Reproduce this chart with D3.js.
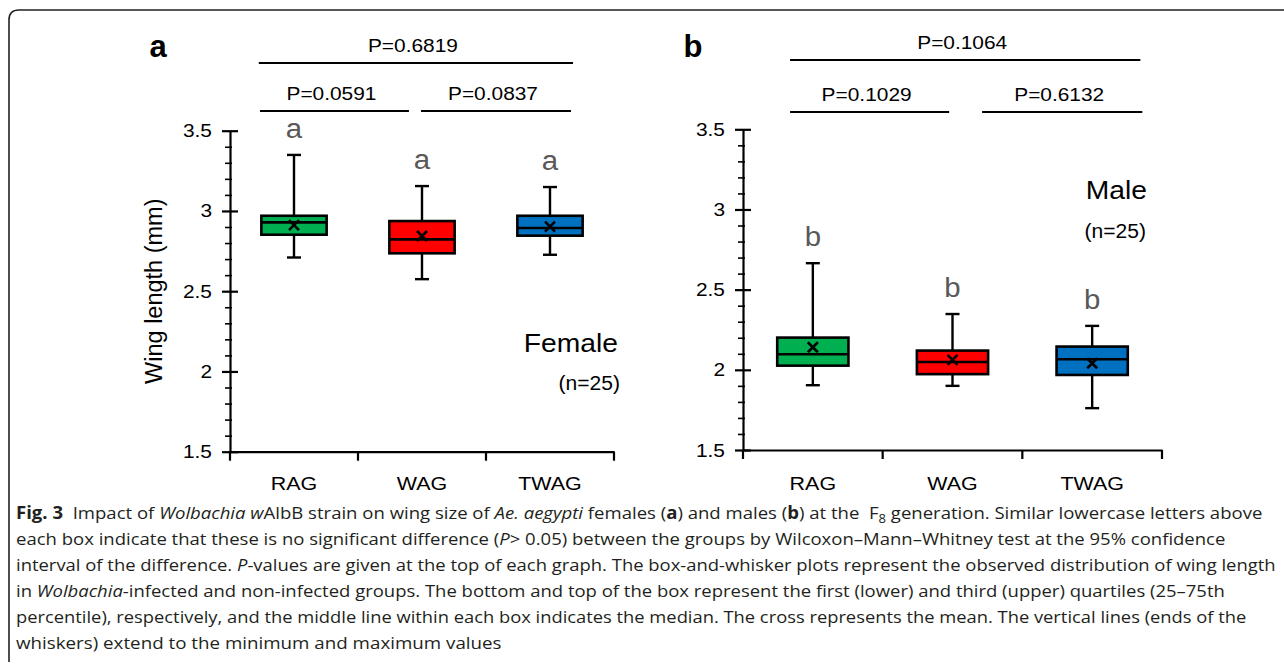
<!DOCTYPE html>
<html><head><meta charset="utf-8">
<script src="https://cdn.jsdelivr.net/npm/d3@7"></script>
<style>
html,body{margin:0;padding:0;background:#fff;}
svg{display:block;}
</style></head>
<body>
<svg id="chart" width="1284" height="668"></svg>
<script>
// ---------------- DATA ----------------
const categories = ["RAG", "WAG", "TWAG"];
const boxColors = ["#00b050", "#ff0000", "#0070c0"];

const femaleMin    = [2.710, 2.575, 2.727];
const femaleQ1     = [2.852, 2.736, 2.846];
const femaleMedian = [2.929, 2.823, 2.894];
const femaleQ3     = [2.970, 2.937, 2.970];
const femaleMax    = [3.349, 3.155, 3.149];
const femaleMean   = [2.912, 2.844, 2.902];
const femaleLetters = ["a", "a", "a"];

const maleMin    = [1.904, 1.900, 1.761];
const maleQ1     = [2.026, 1.973, 1.968];
const maleMedian = [2.097, 2.049, 2.066];
const maleQ3     = [2.201, 2.120, 2.145];
const maleMax    = [2.665, 2.348, 2.274];
const maleMean   = [2.141, 2.062, 2.041];
const maleLetters = ["b", "b", "b"];

const yDomain = [1.5, 3.5];
const yMajorTicks = [1.5, 2, 2.5, 3, 3.5];
const yTickLabels = ["1.5", "2", "2.5", "3", "3.5"];

// comparisons: [from category, to category], P value
const femaleComparisons = [
  {pair: ["RAG", "WAG"],  p: "P=0.0591", level: 0},
  {pair: ["WAG", "TWAG"], p: "P=0.0837", level: 0},
  {pair: ["RAG", "TWAG"], p: "P=0.6819", level: 1}
];
const maleComparisons = [
  {pair: ["RAG", "WAG"],  p: "P=0.1029", level: 0},
  {pair: ["WAG", "TWAG"], p: "P=0.6132", level: 0},
  {pair: ["RAG", "TWAG"], p: "P=0.1064", level: 1}
];

// ---------------- LAYOUT ----------------
const svg = d3.select("#chart");
const FONT = "'Liberation Sans', Arial, sans-serif";
const SX = 1.13; // horizontal stretch of the chart lettering

function label(g, x, y, txt, o = {}) {
  return g.append("text")
    .attr("transform", `translate(${x},${y}) scale(${o.sx || SX},1)`)
    .attr("text-anchor", o.anchor || "middle")
    .attr("font-family", o.font || FONT)
    .attr("font-size", o.size || 19)
    .attr("font-weight", o.weight || "normal")
    .attr("fill", o.fill || "#000")
    .text(txt);
}

// frame
svg.append("path")
  .attr("d", "M9,662 L9,20 Q9,10 19,10 L1290,10")
  .attr("fill", "none").attr("stroke", "#222").attr("stroke-width", 1.6);

const panels = [
  {id: "a", x0: 230, x1: 614, yTop: 130.7, yBot: 451.7,
   min: femaleMin, q1: femaleQ1, med: femaleMedian, q3: femaleQ3, max: femaleMax, mean: femaleMean,
   letters: femaleLetters, comps: femaleComparisons,
   // bracket extents in category-index units
   spans: {"RAG-WAG": [-0.266, 0.898], "WAG-TWAG": [0.992, 2.164], "RAG-TWAG": [-0.275, 2.18]},
   levelY: [111, 63],
   sex: "Female", sexX: 618, sexY: 352, nX: 620, nY: 390, yTitle: true},
  {id: "b", x0: 743, x1: 1162, yTop: 129.3, yBot: 450,
   min: maleMin, q1: maleQ1, med: maleMedian, q3: maleQ3, max: maleMax, mean: maleMean,
   letters: maleLetters, comps: maleComparisons,
   spans: {"RAG-WAG": [-0.163, 0.976], "WAG-TWAG": [1.212, 2.359], "RAG-TWAG": [-0.163, 2.345]},
   levelY: [112, 60],
   sex: "Male", sexX: 1147, sexY: 199, nX: 1146, nY: 238, yTitle: false}
];

panels.forEach(P => {
  const g = svg.append("g");
  const y = d3.scaleLinear().domain(yDomain).range([P.yBot, P.yTop]);
  const x = d3.scaleBand().domain(categories).range([P.x0, P.x1]);
  const xi = d3.scaleLinear().domain([-0.5, categories.length - 0.5]).range([P.x0, P.x1]);
  const bw = x.bandwidth() * 0.51;

  // y axis with minor ticks
  const minor = d3.range(15, 36).map(v => v / 10).filter(v => !yMajorTicks.some(m => Math.abs(m - v) < 1e-9));
  g.append("g").attr("transform", `translate(${P.x0},0)`)
    .call(d3.axisLeft(y).tickValues(minor).tickSize(5).tickFormat(""))
    .call(s => s.select(".domain").remove())
    .call(s => s.selectAll("line").attr("stroke", "#000").attr("stroke-width", 1.6).attr("x2", -5).attr("x1", 2));
  g.append("g").attr("transform", `translate(${P.x0},0)`)
    .call(d3.axisLeft(y).tickValues(yMajorTicks).tickSize(8).tickSizeOuter(0).tickFormat(""))
    .call(s => s.select(".domain").attr("stroke", "#000").attr("stroke-width", 2.2))
    .call(s => s.selectAll(".tick line").attr("stroke", "#000").attr("stroke-width", 2.2).attr("x1", 8));
  yMajorTicks.forEach((t, i) => {
    label(g, P.x0 - 18, y(t) + 6.5, yTickLabels[i], {anchor: "end", size: 18.5});
  });

  // x axis
  g.append("g").attr("transform", `translate(0,${P.yBot})`)
    .call(d3.axisBottom(x).tickSize(0).tickFormat(""))
    .call(s => s.select(".domain").attr("stroke", "#000").attr("stroke-width", 2.2));
  const edges = categories.map(c => x(c)).concat([P.x1]);
  g.selectAll(".xedge").data(edges).join("line")
    .attr("x1", d => d).attr("x2", d => d)
    .attr("y1", P.yBot).attr("y2", P.yBot + 9)
    .attr("stroke", "#000").attr("stroke-width", 2.2);
  categories.forEach(c => label(g, x(c) + x.bandwidth() / 2, 490, c, {size: 19}));

  // boxes
  categories.forEach((c, i) => {
    const cx = x(c) + x.bandwidth() / 2;
    const bg = g.append("g");
    // whisker
    bg.append("line").attr("x1", cx).attr("x2", cx).attr("y1", y(P.max[i])).attr("y2", y(P.min[i]))
      .attr("stroke", "#000").attr("stroke-width", 2.4);
    [P.max[i], P.min[i]].forEach(v => bg.append("line")
      .attr("x1", cx - 7).attr("x2", cx + 7).attr("y1", y(v)).attr("y2", y(v))
      .attr("stroke", "#000").attr("stroke-width", 2.4));
    bg.append("rect").attr("x", cx - bw / 2).attr("width", bw)
      .attr("y", y(P.q3[i])).attr("height", y(P.q1[i]) - y(P.q3[i]))
      .attr("fill", boxColors[i]).attr("stroke", "#000").attr("stroke-width", 2.6);
    bg.append("line").attr("x1", cx - bw / 2).attr("x2", cx + bw / 2)
      .attr("y1", y(P.med[i])).attr("y2", y(P.med[i]))
      .attr("stroke", "#000").attr("stroke-width", 2.6);
    const my = y(P.mean[i]), s = 5;
    bg.append("path").attr("d", `M${cx - s},${my - s}L${cx + s},${my + s}M${cx - s},${my + s}L${cx + s},${my - s}`)
      .attr("stroke", "#000").attr("stroke-width", 2.6).attr("fill", "none");
    // letter
    label(g, cx, y(P.max[i]) - 17, P.letters[i], {size: 28, fill: "#595959", sx: 1.05});
  });

  // comparison brackets
  P.comps.forEach(cmp => {
    const key = cmp.pair.join("-");
    const [a, b] = P.spans[key];
    const ly = P.levelY[cmp.level];
    g.append("line").attr("x1", xi(a)).attr("x2", xi(b)).attr("y1", ly).attr("y2", ly)
      .attr("stroke", "#000").attr("stroke-width", 2);
    label(g, (xi(a) + xi(b)) / 2 - 3, ly - 11.5, cmp.p, {size: 18.5});
  });

  // sex + n
  label(g, P.sexX, P.sexY, P.sex, {anchor: "end", size: 25});
  label(g, P.nX, P.nY, "(n=25)", {anchor: "end", size: 19.5, sx: 1.08});

  // panel letter
  label(g, P.id === "a" ? 158 : 693, 57, P.id, {size: 31, weight: "bold", sx: 1.0});

  if (P.yTitle) {
    svg.append("text")
      .attr("transform", `translate(162,${(P.yTop + P.yBot) / 2}) rotate(-90)`)
      .attr("text-anchor", "middle").attr("font-family", FONT).attr("font-size", 23.5)
      .attr("fill", "#000").text("Wing length (mm)");
  }
});

// ---------------- CAPTION ----------------
const CAP = "'Open Sans', 'Noto Sans', sans-serif";
const captionLines = [
  {w: 1247, parts: [["Fig. 3", "b"], ["  Impact of "], ["Wolbachia w", "i"], ["AlbB strain on wing size of "], ["Ae. aegypti", "i"],
    [" females ("], ["a", "b"], [") and males ("], ["b", "b"], [") at the  F"], ["8", "sub"], [" generation. Similar lowercase letters above"]]},
  {w: 1210, parts: [["each box indicate that these is no significant difference ("], ["P", "i"], ["> 0.05) between the groups by Wilcoxon–Mann–Whitney test at the 95% confidence"]]},
  {w: 1261, parts: [["interval of the difference. "], ["P", "i"], ["-values are given at the top of each graph. The box-and-whisker plots represent the observed distribution of wing length"]]},
  {w: 1209, parts: [["in "], ["Wolbachia", "i"], ["-infected and non-infected groups. The bottom and top of the box represent the first (lower) and third (upper) quartiles (25–75th"]]},
  {w: 1231, parts: [["percentile), respectively, and the middle line within each box indicates the median. The cross represents the mean. The vertical lines (ends of the"]]},
  {w: 486, parts: [["whiskers) extend to the minimum and maximum values"]]}
];
captionLines.forEach((ln, i) => {
  const yb = 519 + i * 26;
  const t = svg.append("text").attr("font-family", CAP).attr("font-size", 17).attr("fill", "#231f20");
  ln.parts.forEach(([s, st]) => {
    const ts = t.append("tspan").text(s).attr("xml:space", "preserve");
    if (st === "b") ts.attr("font-weight", "bold");
    if (st === "i") ts.attr("font-style", "italic");
    if (st === "sub") { ts.attr("font-size", 12).attr("dy", 4); }
  });
  // reset baseline after subscript
  t.selectAll("tspan").each(function (d, k, nodes) {
    const prev = k > 0 ? d3.select(nodes[k - 1]) : null;
    if (prev && prev.attr("dy") === "4") d3.select(this).attr("dy", -4);
  });
  t.style("white-space", "pre");
  const w = t.node().getComputedTextLength();
  t.attr("transform", `translate(16,${yb}) scale(${ln.w / w},1)`);
});
</script>
</body></html>
